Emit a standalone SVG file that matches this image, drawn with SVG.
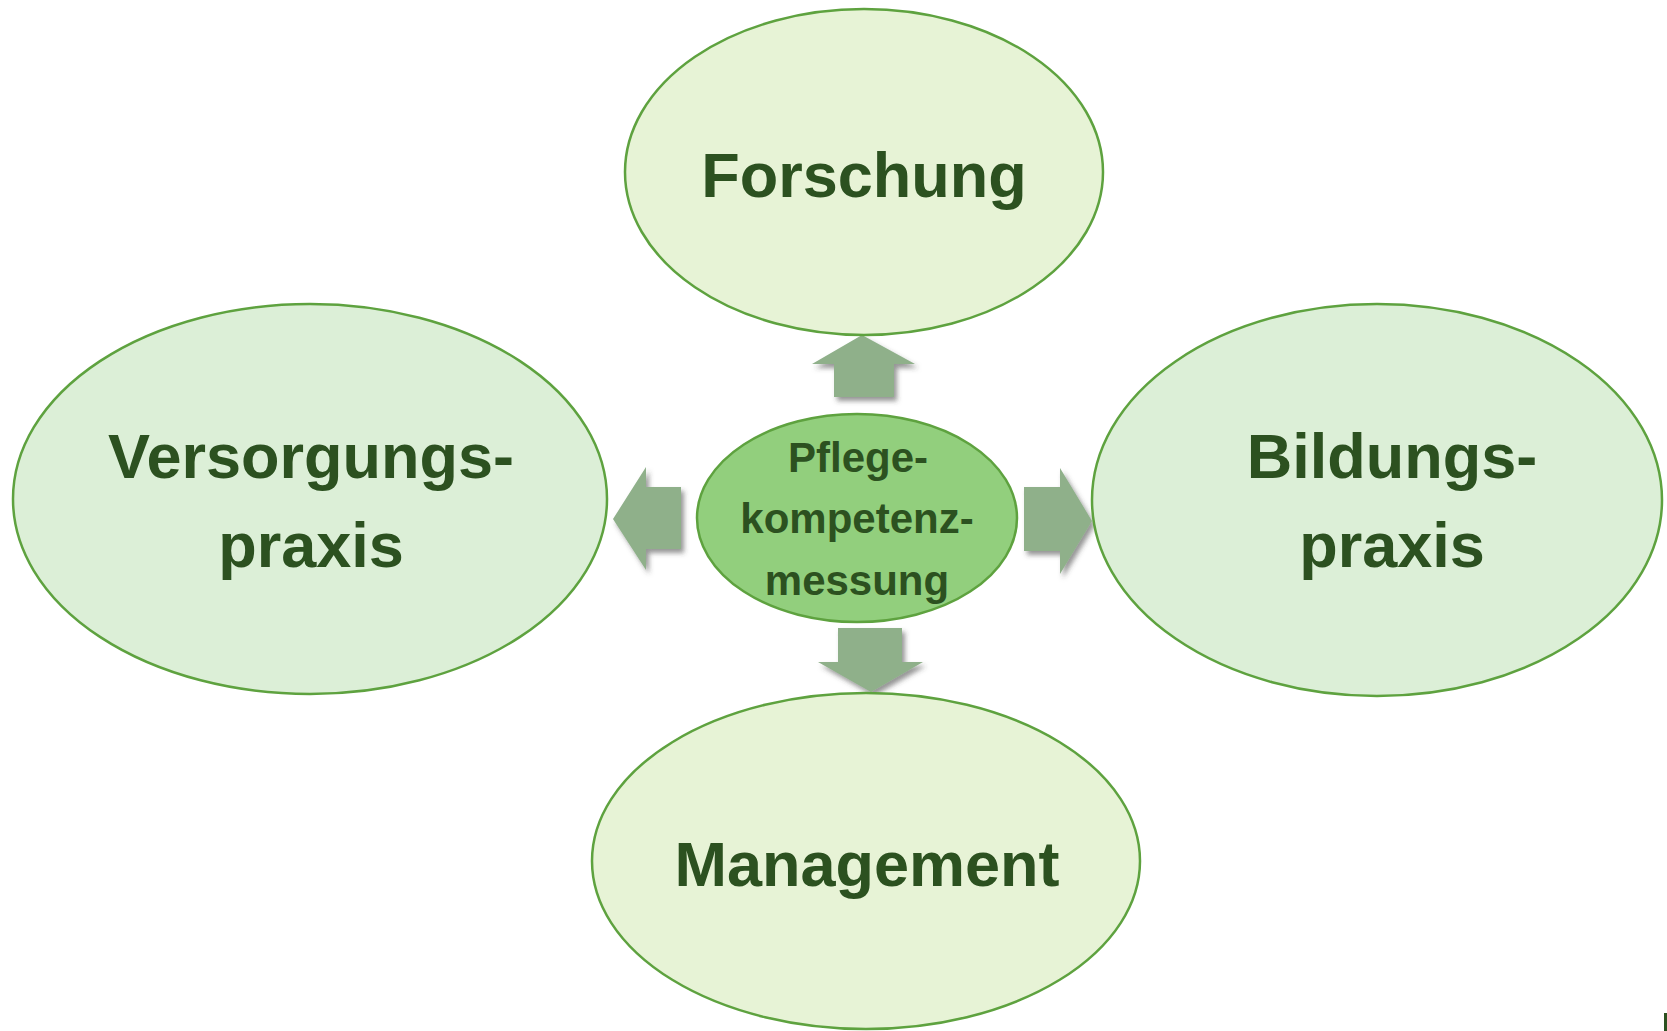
<svg xmlns="http://www.w3.org/2000/svg" width="1667" height="1031" viewBox="0 0 1667 1031">
<style>
.node{stroke:#5ea23f;stroke-width:2.5}
.light{fill:#e7f3d6}
.mid{fill:#dcefd7}
.core{fill:#92cf7d}
.lbl{font-family:"Liberation Sans",Arial,sans-serif;font-weight:bold;fill:#2c5120;text-anchor:middle}
.big{font-size:63px}
.small{font-size:42px}
.arrow{fill:#8fb08a;filter:url(#sh)}
</style>
<defs>
<filter id="sh" x="-30%" y="-30%" width="160%" height="160%">
<feDropShadow dx="3" dy="4" stdDeviation="2.5" flood-color="#404040" flood-opacity="0.55"/>
</filter>
</defs>
<rect width="1667" height="1031" fill="#ffffff"/>
<g id="connectors">
<polygon class="arrow" points="862,335 915,364 894,364 894,397 834,397 834,364 812,364"/>
<polygon class="arrow" points="613,519 646,467 646,487 681,487 681,549 646,549 646,570"/>
<polygon class="arrow" points="1092,521 1060,468 1060,487 1024,487 1024,551 1060,551 1060,574"/>
<polygon class="arrow" points="871,692 923,662 902,662 902,628 838,628 838,662 818,662"/>
</g>
<g id="forschung">
<ellipse class="node light" cx="864" cy="172" rx="239" ry="163"/>
<text class="lbl big" x="864" y="197">Forschung</text>
</g>
<g id="versorgungspraxis">
<ellipse class="node mid" cx="310" cy="499" rx="297" ry="195"/>
<text class="lbl big" x="311" y="478">Versorgungs-</text>
<text class="lbl big" x="311" y="567">praxis</text>
</g>
<g id="bildungspraxis">
<ellipse class="node mid" cx="1377" cy="500" rx="285" ry="196"/>
<text class="lbl big" x="1392" y="478">Bildungs-</text>
<text class="lbl big" x="1392" y="567">praxis</text>
</g>
<g id="management">
<ellipse class="node light" cx="866" cy="861" rx="274" ry="168"/>
<text class="lbl big" x="867" y="886">Management</text>
</g>
<g id="pflegekompetenzmessung">
<ellipse class="node core" cx="857" cy="518" rx="160" ry="104"/>
<text class="lbl small" x="858" y="472">Pflege-</text>
<text class="lbl small" x="857" y="533">kompetenz-</text>
<text class="lbl small" x="857" y="595">messung</text>
</g>
<rect x="1664" y="1013" width="3" height="18" fill="#2c5120"/>
</svg>
